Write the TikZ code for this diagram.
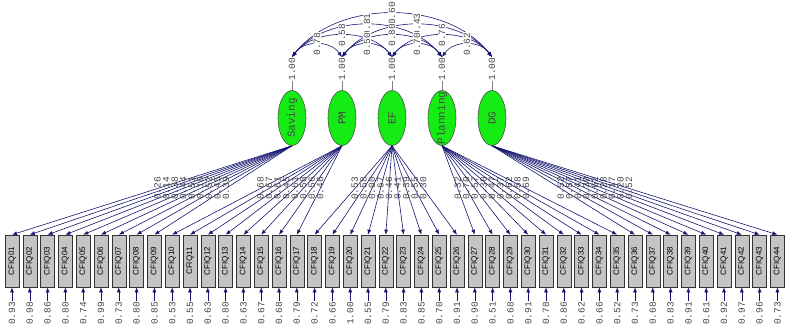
\documentclass[tikz,border=0pt]{standalone}
\usepackage{fontspec}
\setmainfont{Liberation Mono}
\newfontfamily\boxfont{Liberation Sans}
\usepackage{xcolor}
\usepackage{tikz}
\usetikzlibrary{shapes,arrows.meta,positioning}
\definecolor{pathblue}{RGB}{22,22,112}
\definecolor{latentgreen}{RGB}{20,236,20}
\definecolor{boxgray}{RGB}{196,196,196}

\begin{document}
\begin{tikzpicture}[x=1pt, y=1pt, >={Latex[length=5pt,width=4pt]},
    line width=0.6pt,
    latent/.style={ellipse, draw=gray!60!black, fill=latentgreen, minimum width=28pt, minimum height=55pt, inner sep=0pt},
    obs/.style={rectangle, draw=gray!40!black, fill=boxgray, minimum width=14pt, minimum height=52pt, inner sep=0pt, font=\boxfont\fontsize{8}{9}\selectfont},
    lbl/.style={rotate=90, inner sep=0.6pt, text=black!72, font=\fontsize{9.5}{10}\selectfont},
    lvname/.style={rotate=90, inner sep=0pt, text=black!72, font=\fontsize{11}{12}\selectfont},
    path/.style={->, draw=pathblue}]
  \useasboundingbox (0,0) rectangle (786,325);

  % latent variables with their variances
  \foreach \nm/\txt [count=\i] in {sav/Saving, pm/PM, ef/EF, pl/Planning, dg/DG}{
    \node[latent] (\nm) at ({292+50*(\i-1)},207) {};
    \node[lvname] (n\nm) at (\nm) {\txt};
    \node[lbl] (v\nm) at ({292+50*(\i-1)},256) {1.00};
    \coordinate (t\nm) at ({292+50*(\i-1)},268);
    \draw[gray] (\nm) -- (v\nm);
  }

  % observed items and their errors
  \foreach \e [count=\i] in {0.93,0.98,0.86,0.80,0.74,0.99,0.73,0.80,0.85,0.53,0.55,0.63,0.80,0.63,0.67,0.68,0.79,0.72,0.66,1.00,0.55,0.79,0.83,0.85,0.70,0.91,0.90,0.51,0.68,0.91,0.78,0.86,0.62,0.66,0.52,0.73,0.68,0.83,0.91,0.61,0.92,0.97,0.96,0.73}{
    \pgfmathsetmacro\xx{12+17.8*(\i-1)}
    \node[obs] (b\i) at (\xx,64) {\rotatebox{90}{CFIQ\ifnum\i<10 0\fi\i}};
    \node[lbl] (e\i) at (\xx,11.5) {\e};
    \draw[path] (e\i) -- (b\i);
  }

  % loadings
  \foreach \f/\l [count=\i] in {sav/0.26,sav/0.14,sav/0.38,sav/0.44,sav/0.51,sav/0.10,sav/0.52,sav/0.45,sav/0.39,
      pm/0.68,pm/0.67,pm/0.61,pm/0.45,pm/0.61,pm/0.58,pm/0.56,pm/0.46,
      ef/0.53,ef/0.58,ef/0.00,ef/0.67,ef/0.46,ef/0.41,ef/0.39,ef/0.55,ef/0.30,
      pl/0.32,pl/0.70,pl/0.57,pl/0.30,pl/0.47,pl/0.37,pl/0.62,pl/0.58,pl/0.69,
      dg/0.52,dg/0.57,dg/0.41,dg/0.30,dg/0.62,dg/0.28,dg/0.17,dg/0.20,dg/0.52}{
    \draw[path] (\f.south) -- node[lbl, pos=0.48] {\l} (b\i.north);
  }

  % correlations between the latent variables
  \foreach \a/\b/\r/\u/\c in {sav/dg/0.60/45/58, sav/pl/0.81/34/43, pm/dg/0.43/34/43,
      sav/ef/0.58/22/29, pm/pl/0.80/22/29, ef/dg/0.76/22/29,
      sav/pm/0.78/12/17, pm/ef/0.50/12/17, ef/pl/0.70/12/17, pl/dg/0.62/12/17}{
    \draw[<->, draw=pathblue] (t\a) .. controls +(\u,\c) and +(-\u,\c) .. node[lbl, fill=white] {\r} (t\b);
  }
\end{tikzpicture}
\end{document}
